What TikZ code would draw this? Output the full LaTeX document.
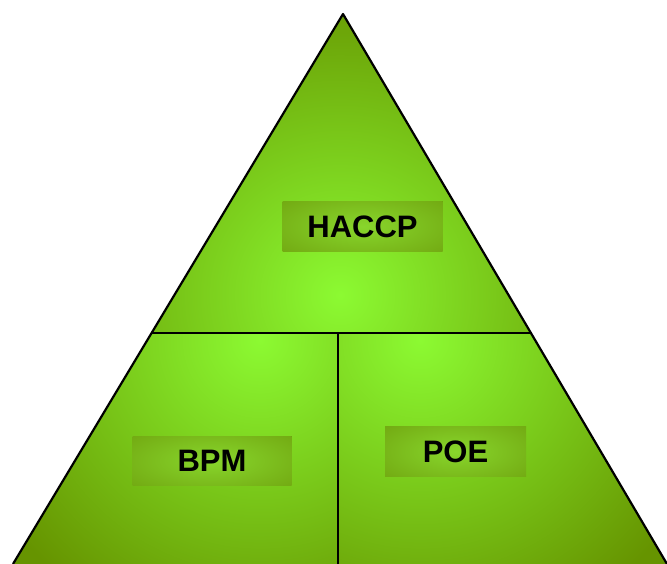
\documentclass[tikz,border=0pt]{standalone}
\usepackage{fontspec}
\setmainfont{Liberation Sans}
\usetikzlibrary{calc}
\definecolor{pyrout}{RGB}{102,148,0}
\definecolor{pyrin}{RGB}{140,250,50}
\definecolor{boxout}{RGB}{106,152,8}
\definecolor{boxin}{RGB}{136,214,44}
\tikzset{
  edge/.style={draw=black, line width=2.2pt, line join=round},
  labelbox/.style={rectangle, fill=boxout, inner sep=0pt,
    font=\bfseries\fontsize{31}{31}\selectfont, text=black,
    path picture={\shade[inner color=boxin, outer color=boxout]
      (path picture bounding box.center) ellipse [x radius=0.95*\pgfkeysvalueof{/pgf/minimum width}, y radius=1.1*\pgfkeysvalueof{/pgf/minimum height}];}}
}
\begin{document}
\begin{tikzpicture}[x=1pt,y=-1pt]
\useasboundingbox (0,0) rectangle (667,564);
\coordinate (A) at (343,14);
\coordinate (L) at (13,564);
\coordinate (R) at (667,564);
\coordinate (ML) at ($(A)!0.58!(L)$);
\coordinate (MR) at ($(A)!0.58!(R)$);
\coordinate (MT) at (338,333);
\coordinate (MB) at (338,564);
% top triangle
\fill[pyrout] (A) -- (ML) -- (MR) -- cycle;
\begin{scope}
  \clip (A) -- (ML) -- (MR) -- cycle;
  \shade[inner color=pyrin, outer color=pyrout] (340,295) circle (320);
\end{scope}
% bottom left
\fill[pyrout] (ML) -- (MT) -- (MB) -- (L) -- cycle;
\begin{scope}
  \clip (ML) -- (MT) -- (MB) -- (L) -- cycle;
  \shade[inner color=pyrin, outer color=pyrout] (260,340) circle (310);
\end{scope}
% bottom right
\fill[pyrout] (MT) -- (MR) -- (R) -- (MB) -- cycle;
\begin{scope}
  \clip (MT) -- (MR) -- (R) -- (MB) -- cycle;
  \shade[inner color=pyrin, outer color=pyrout] (420,340) circle (310);
\end{scope}
% outlines
\draw[edge] (L) -- (A) -- (R);
\draw[edge] (ML) -- (MR);
\draw[edge] (MT) -- (MB);
% labels
\node[labelbox, minimum width=160pt, minimum height=50pt] (haccp) at (362.5,226.5) {HACCP};
\node[labelbox, minimum width=159pt, minimum height=49pt] (bpm) at (212,460.5) {BPM};
\node[labelbox, minimum width=141pt, minimum height=50pt] (poe) at (455.5,451.5) {POE};
\end{tikzpicture}
\end{document}
